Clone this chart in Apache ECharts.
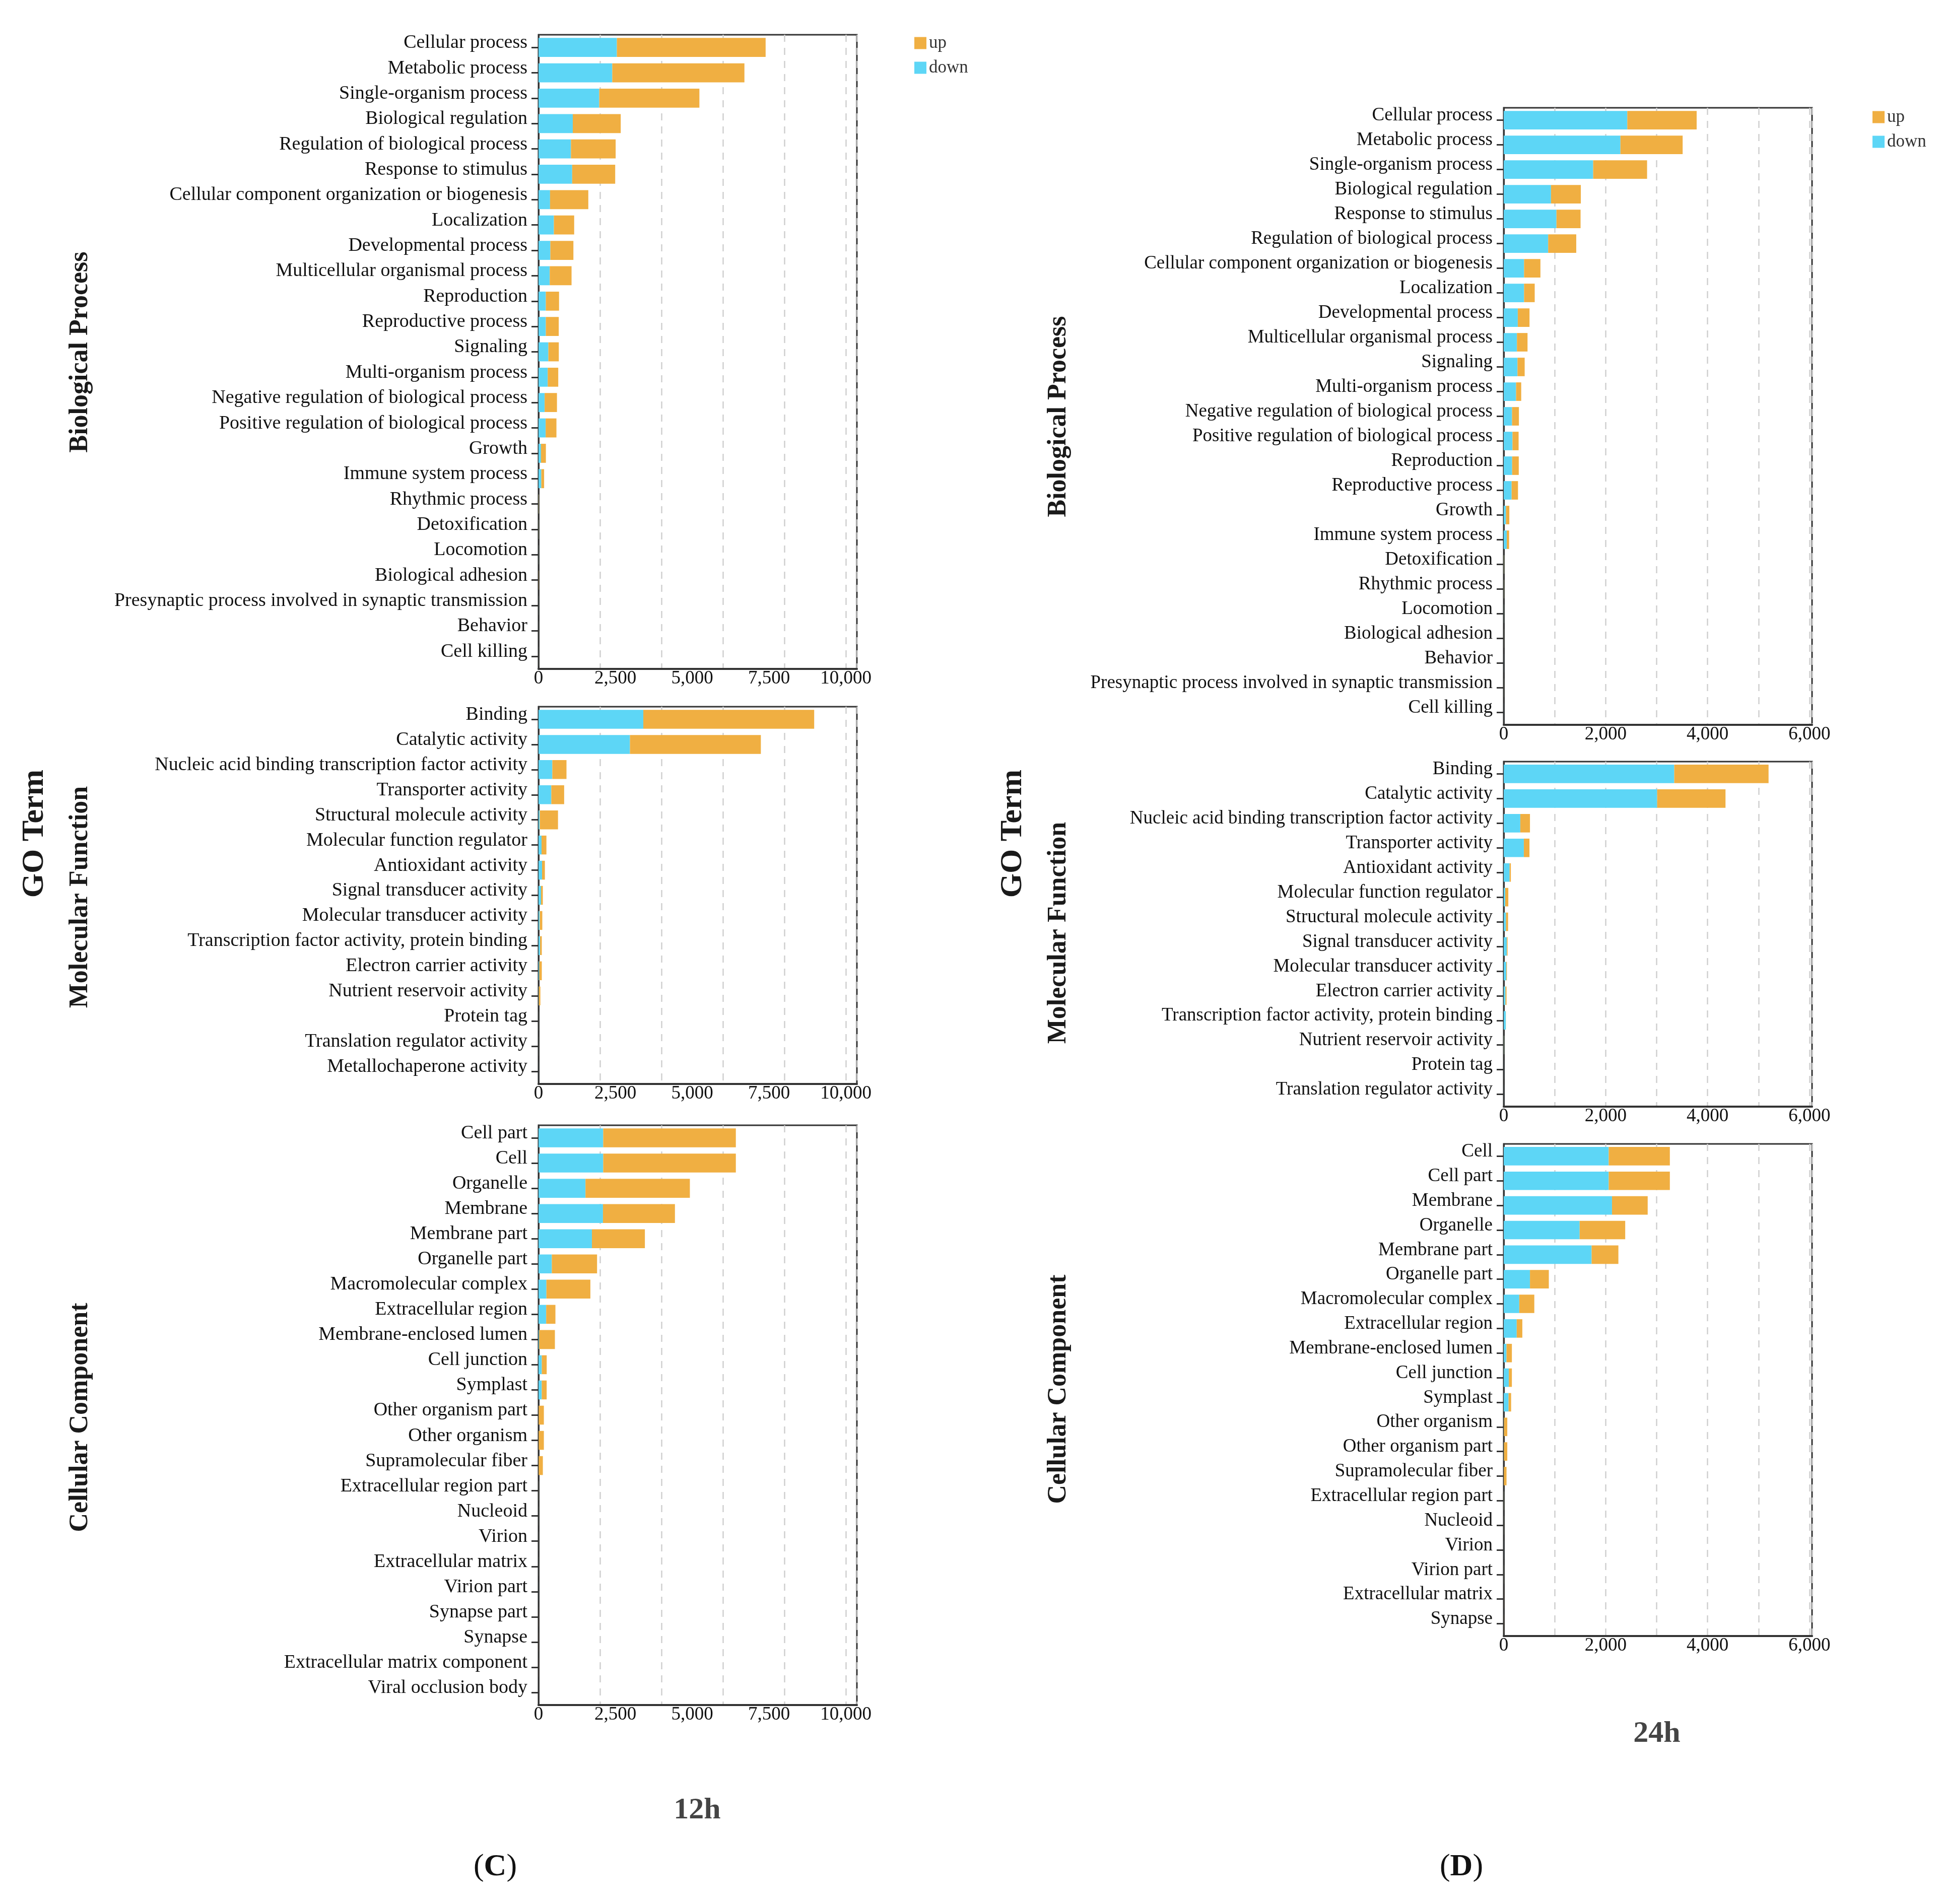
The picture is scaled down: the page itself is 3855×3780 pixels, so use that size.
<!DOCTYPE html>
<html>

	<head>
		<meta charset="UTF-8">
		<title>GO Term 12h / 24h</title>
		<script src="https://cdn.jsdelivr.net/npm/echarts@6/dist/echarts.min.js"></script>
		<style type="text/css">
			html, body {
				margin: 0;
				padding: 0;
				background: #fff;
			}
			#main {
				width: 3855px;
				height: 3780px;
			}
		</style>
	</head>

	<body>
		<div id="main"></div>
		<script type="text/javascript">
			// ---- 12h ----
			var bp12Terms = ['Cellular process', 'Metabolic process', 'Single-organism process', 'Biological regulation',
				'Regulation of biological process', 'Response to stimulus', 'Cellular component organization or biogenesis',
				'Localization', 'Developmental process', 'Multicellular organismal process', 'Reproduction',
				'Reproductive process', 'Signaling', 'Multi-organism process', 'Negative regulation of biological process',
				'Positive regulation of biological process', 'Growth', 'Immune system process', 'Rhythmic process',
				'Detoxification', 'Locomotion', 'Biological adhesion', 'Presynaptic process involved in synaptic transmission',
				'Behavior', 'Cell killing'];
			var bp12Down = [2550, 2400, 1975, 1115, 1055, 1095, 375, 500, 385, 365, 238, 238, 320, 299, 199, 232, 80, 90, 8, 4, 3, 2, 2, 1, 1];
			var bp12Up = [4840, 4300, 3260, 1560, 1455, 1400, 1245, 660, 750, 710, 430, 420, 340, 343, 401, 351, 160, 92, 8, 4, 2, 6, 1, 1, 1];

			var mf12Terms = ['Binding', 'Catalytic activity', 'Nucleic acid binding transcription factor activity',
				'Transporter activity', 'Structural molecule activity', 'Molecular function regulator', 'Antioxidant activity',
				'Signal transducer activity', 'Molecular transducer activity', 'Transcription factor activity, protein binding',
				'Electron carrier activity', 'Nutrient reservoir activity', 'Protein tag', 'Translation regulator activity',
				'Metallochaperone activity'];
			var mf12Down = [3410, 2975, 449, 416, 40, 98, 115, 82, 40, 50, 25, 10, 1, 1, 1];
			var mf12Up = [5560, 4260, 461, 418, 594, 159, 92, 58, 83, 57, 82, 50, 1, 1, 0];

			var cc12Terms = ['Cell part', 'Cell', 'Organelle', 'Membrane', 'Membrane part', 'Organelle part',
				'Macromolecular complex', 'Extracellular region', 'Membrane-enclosed lumen', 'Cell junction', 'Symplast',
				'Other organism part', 'Other organism', 'Supramolecular fiber', 'Extracellular region part', 'Nucleoid',
				'Virion', 'Extracellular matrix', 'Virion part', 'Synapse part', 'Synapse', 'Extracellular matrix component',
				'Viral occlusion body'];
			var cc12Down = [2105, 2105, 1528, 2097, 1738, 433, 257, 249, 20, 107, 105, 5, 5, 5, 2, 1, 1, 1, 1, 0, 0, 0, 0];
			var cc12Up = [4316, 4316, 3397, 2342, 1723, 1472, 1430, 301, 513, 159, 160, 169, 169, 136, 2, 1, 1, 1, 0, 1, 1, 1, 0];

			// ---- 24h ----
			var bp24Terms = ['Cellular process', 'Metabolic process', 'Single-organism process', 'Biological regulation',
				'Response to stimulus', 'Regulation of biological process', 'Cellular component organization or biogenesis',
				'Localization', 'Developmental process', 'Multicellular organismal process', 'Signaling',
				'Multi-organism process', 'Negative regulation of biological process', 'Positive regulation of biological process',
				'Reproduction', 'Reproductive process', 'Growth', 'Immune system process', 'Detoxification', 'Rhythmic process',
				'Locomotion', 'Biological adhesion', 'Behavior', 'Presynaptic process involved in synaptic transmission',
				'Cell killing'];
			var bp24Down = [2425, 2290, 1755, 928, 1035, 872, 399, 399, 276, 259, 270, 242, 163, 172, 165, 155, 45, 60, 5, 3, 2, 1, 1, 1, 1];
			var bp24Up = [1361, 1221, 1058, 585, 473, 551, 321, 209, 230, 208, 141, 101, 135, 120, 130, 125, 65, 45, 4, 3, 1, 1, 0, 1, 0];

			var mf24Terms = ['Binding', 'Catalytic activity', 'Nucleic acid binding transcription factor activity',
				'Transporter activity', 'Antioxidant activity', 'Molecular function regulator', 'Structural molecule activity',
				'Signal transducer activity', 'Molecular transducer activity', 'Electron carrier activity',
				'Transcription factor activity, protein binding', 'Nutrient reservoir activity', 'Protein tag',
				'Translation regulator activity'];
			var mf24Down = [3346, 3011, 325, 395, 115, 30, 45, 60, 50, 35, 40, 5, 1, 1];
			var mf24Up = [1851, 1341, 190, 110, 25, 60, 40, 15, 12, 20, 2, 3, 0, 0];

			var cc24Terms = ['Cell', 'Cell part', 'Membrane', 'Organelle', 'Membrane part', 'Organelle part',
				'Macromolecular complex', 'Extracellular region', 'Membrane-enclosed lumen', 'Cell junction', 'Symplast',
				'Other organism', 'Other organism part', 'Supramolecular fiber', 'Extracellular region part', 'Nucleoid',
				'Virion', 'Virion part', 'Extracellular matrix', 'Synapse'];
			var cc24Down = [2060, 2060, 2125, 1490, 1725, 515, 305, 255, 55, 100, 95, 5, 5, 3, 2, 1, 1, 1, 0, 0];
			var cc24Up = [1200, 1200, 700, 894, 525, 370, 295, 110, 105, 60, 50, 65, 65, 52, 2, 1, 0, 1, 1, 1];

			var serif = "'Times New Roman', 'Liberation Serif', serif";
			var upColor = '#F0AF42',
				downColor = '#5DD6F6',
				lineColor = '#333';

			// one entry per grid: data + where the grid sits
			var panels = [
				{ terms: bp12Terms, down: bp12Down, up: bp12Up, left: 1069, top: 69, width: 632, height: 1259, max: 10360, labelStep: 2500, lineStep: 2000, font: 38 },
				{ terms: mf12Terms, down: mf12Down, up: mf12Up, left: 1069, top: 1403, width: 632, height: 749, max: 10360, labelStep: 2500, lineStep: 2000, font: 38 },
				{ terms: cc12Terms, down: cc12Down, up: cc12Up, left: 1069, top: 2234, width: 632, height: 1151, max: 10360, labelStep: 2500, lineStep: 2000, font: 38 },
				{ terms: bp24Terms, down: bp24Down, up: bp24Up, left: 2985, top: 214, width: 612, height: 1225, max: 6050, labelStep: 2000, lineStep: 1000, font: 37 },
				{ terms: mf24Terms, down: mf24Down, up: mf24Up, left: 2985, top: 1512, width: 612, height: 685, max: 6050, labelStep: 2000, lineStep: 1000, font: 37 },
				{ terms: cc24Terms, down: cc24Down, up: cc24Up, left: 2985, top: 2271, width: 612, height: 977, max: 6050, labelStep: 2000, lineStep: 1000, font: 37 }
			];

			var grids = [], xAxes = [], yAxes = [], series = [];

			panels.forEach(function(p, i) {
				grids.push({
					left: p.left,
					top: p.top,
					width: p.width,
					height: p.height,
					show: true,
					borderColor: lineColor,
					borderWidth: 3,
					backgroundColor: '#fff'
				});
				// axis carrying the tick labels
				xAxes.push({
					type: 'value',
					gridIndex: i,
					min: 0,
					max: p.max,
					interval: p.labelStep,
					position: 'bottom',
					axisLine: { show: true, lineStyle: { color: lineColor, width: 4 } },
					axisTick: { show: false },
					splitLine: { show: false },
					axisLabel: {
						margin: 1,
						fontSize: 37,
						fontFamily: serif,
						color: '#111',
						formatter: (function(step) {
							return function(v) {
								return v % step === 0 ? v.toLocaleString('en-US') : '';
							};
						})(p.labelStep)
					}
				});
				// axis carrying the dashed grid lines
				xAxes.push({
					type: 'value',
					gridIndex: i,
					min: 0,
					max: p.max,
					interval: p.lineStep,
					position: 'top',
					axisLine: { show: false },
					axisTick: { show: false },
					axisLabel: { show: false },
					splitLine: { show: true, lineStyle: { color: '#cfcfcf', width: 2.5, type: [14, 12] } }
				});
				yAxes.push({
					type: 'category',
					gridIndex: i,
					data: p.terms,
					inverse: true,
					axisLine: { show: true, lineStyle: { color: lineColor, width: 3 } },
					axisTick: { show: true, alignWithLabel: true, length: 14, lineStyle: { color: lineColor, width: 3 } },
					axisLabel: {
						interval: 0,
						margin: 22,
						// labels sit a little above their tick, as in the source figure
						verticalAlign: 'bottom',
						lineHeight: 18,
						fontSize: p.font,
						fontFamily: serif,
						color: '#111'
					}
				});
				series.push({
					name: 'down',
					type: 'bar',
					xAxisIndex: 2 * i,
					yAxisIndex: i,
					stack: 'go' + i,
					barCategoryGap: '25%',
					itemStyle: { color: downColor },
					data: p.down
				}, {
					name: 'up',
					type: 'bar',
					xAxisIndex: 2 * i,
					yAxisIndex: i,
					stack: 'go' + i,
					barCategoryGap: '25%',
					itemStyle: { color: upColor },
					data: p.up
				});
			});

			function legendAt(left, top) {
				return {
					data: ['up', 'down'],
					orient: 'vertical',
					left: left,
					top: top,
					padding: 0,
					icon: 'rect',
					itemWidth: 24,
					itemHeight: 24,
					itemGap: 14,
					textStyle: { fontSize: 35, fontFamily: serif, color: '#333' }
				};
			}

			function vText(x, y, text, size) {
				return {
					type: 'text',
					x: x,
					y: y,
					rotation: Math.PI / 2,
					style: {
						text: text,
						font: 'bold ' + size + 'px ' + serif,
						fill: '#1a1a1a',
						align: 'center',
						verticalAlign: 'middle'
					}
				};
			}

			function hText(x, y, text, size, color) {
				return {
					type: 'text',
					x: x,
					y: y,
					style: {
						text: text,
						font: 'bold ' + size + 'px ' + serif,
						fill: color,
						align: 'center',
						verticalAlign: 'middle'
					}
				};
			}

			function panelTag(x, y, letter) {
				return {
					type: 'text',
					x: x,
					y: y,
					style: {
						text: '{n|(}{b|' + letter + '}{n|)}',
						align: 'center',
						verticalAlign: 'middle',
						rich: {
							n: { fontSize: 62, fontFamily: serif, fill: '#111' },
							b: { fontSize: 62, fontFamily: serif, fontWeight: 'bold', fill: '#111' }
						}
					}
				};
			}

			var myChart = echarts.init(document.getElementById('main'), null, { renderer: 'canvas' });
			var option = {
				backgroundColor: '#fff',
				animation: false,
				legend: [legendAt(1815, 68), legendAt(3717, 215)],
				grid: grids,
				xAxis: xAxes,
				yAxis: yAxes,
				series: series,
				graphic: [
					vText(69, 1655, 'GO Term', 62),
					vText(160, 699, 'Biological Process', 52),
					vText(160, 1781, 'Molecular Function', 52),
					vText(160, 2814, 'Cellular Component', 52),
					vText(2011, 1655, 'GO Term', 62),
					vText(2102, 827, 'Biological Process', 52),
					vText(2102, 1852, 'Molecular Function', 52),
					vText(2102, 2758, 'Cellular Component', 52),
					hText(1384, 3594, '12h', 60, '#444'),
					hText(3289, 3442, '24h', 60, '#444'),
					panelTag(983, 3707, 'C'),
					panelTag(2901, 3707, 'D')
				]
			};
			myChart.setOption(option);
		</script>
	</body>

</html>
